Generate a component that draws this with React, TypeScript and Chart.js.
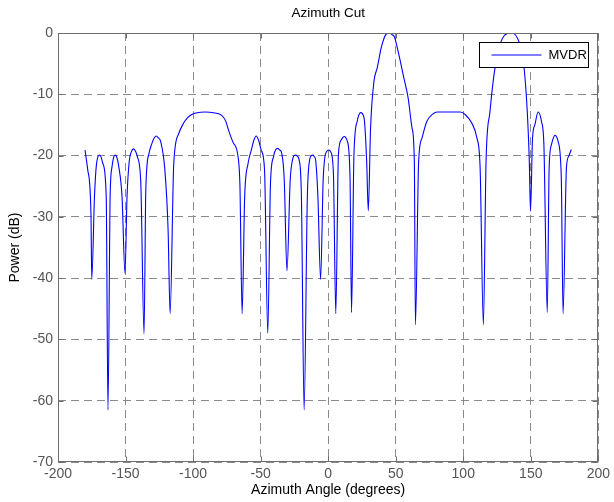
import { useEffect, useRef } from "react";
import { Chart, registerables } from "chart.js";

Chart.register(...registerables);

const chartTitle = "Azimuth Cut";
const xAxisTitle = "Azimuth Angle (degrees)";
const yAxisTitle = "Power (dB)";
const seriesLabel = "MVDR";

const xRange = [-200, 200];
const xStep = 50;
const yRange = [-70, 0];
const yStep = 10;

const azimuthDeg = [
  -180, -178, -175.6, -175, -173, -171.7, -170.5, -169.2, -168, -166.8, -164.3, -163,
  -161.4, -160, -158.7, -157.5, -156.3, -155, -152.6, -150.4, -148.9, -147.3, -145.7,
  -144.1, -142.6, -141.2, -138.7, -136.3, -135, -132.6, -130.6, -129, -127.3, -125.7,
  -124, -120.9, -118.5, -117, -114.3, -110.6, -107, -104, -101, -97, -91, -85, -79,
  -76, -73.5, -70.5, -66.5, -65.3, -63.7, -61.8, -59.3, -56.9, -55, -53.3, -51.5,
  -49.6, -47.1, -44.7, -42.7, -40.5, -39, -37.4, -35.9, -34.4, -32.5, -30.5, -28.1,
  -26.4, -25.2, -24, -22.8, -21.5, -19.8, -17.8, -15.4, -13.7, -12.4, -11.2, -10.2,
  -9.3, -7.6, -5.6, -3.7, -2.4, -1, 0.5, 1.9, 3.9, 5.65, 7.6, 9.8, 11.8, 14.2, 16.2,
  17.3, 19.1, 21.5, 24.1, 26.6, 28.5, 29.7, 31.4, 33.9, 36.3, 39.3, 42.5, 45, 47.5,
  49, 52.3, 56, 59.2, 62.1, 63.8, 64.6, 67, 69.5, 73.1, 77.6, 80.7, 90.8, 97.8, 101.4,
  106.3, 110.1, 112.5, 114.9, 116.9, 119.8, 123.5, 127.2, 130.9, 135.2, 140, 144.5,
  147.4, 148.9, 149.8, 151.3, 153, 155.4, 157.9, 159.7, 162.2, 163.6, 165.3, 168,
  170.2, 172.6, 173.9, 176.4, 178.1, 180,
];

const powerDb = [
  -19.1, -22.3, -29.4, -40.2, -26.7, -21.8, -20.2, -19.9, -20.3, -21.3, -26.7, -61.5,
  -26.7, -21.8, -20.2, -19.9, -20.4, -21.8, -26.7, -39.2, -26.7, -21, -19.4,
  -18.9, -19.3, -20.2, -24.5, -49.1, -25.6, -19.6, -18.1, -17.2, -16.8, -17.1,
  -17.7, -22.3, -32.1, -45.8, -21.3, -16.4, -14.7, -13.8, -13.3, -13.0, -12.9, -13.0, -13.4,
  -14.3, -16.0, -17.8, -20.5, -25, -45.8, -26.7, -21.3, -19.1, -17.5, -16.8, -17.5,
  -19.1, -22.3, -49, -24.5, -20.2, -19.1, -18.8, -19.1, -19.6, -24, -38.8, -24,
  -20.7, -20.0, -19.9, -20.1, -20.7, -26.7, -61.5, -26.7, -20.7, -20.0, -19.9, -20.2,
  -20.7, -26.7, -40.2, -24, -20.2, -19.3, -19.1, -19.4, -23, -45.8, -19.8, -17.4, -16.9, -17.7, -23.7,
  -45.6, -19.8, -14.4, -13, -13.9, -20.9, -29, -15.5, -7.9, -5.7, -2.4, -0.3, 0, -0.3,
  -0.6, -3.5, -7.3, -10.6, -15.5, -20.9, -47.6, -20.9, -17.1, -14.4, -13.2, -12.9, -12.9, -12.9, -13.3,
  -14.7, -17.1, -22, -47.6, -20.9, -12.8, -5.7, -1.9, -0.3, 0, -0.8, -4.6,
  -12.8, -20.9, -29.1, -17.1, -15, -12.9, -14.4, -18.2, -45.6, -22, -18.2, -16.7,
  -17.7, -23.7, -45.8, -22, -20.1, -19,
];

const FONT = "'Liberation Sans', Arial, Helvetica, sans-serif";

export default function App() {
  const ref = useRef<HTMLCanvasElement>(null);

  useEffect(() => {
    document.body.style.margin = "0";
    const canvas = ref.current;
    if (!canvas) return;

    const framePlugin = {
      id: "matlabFrame",
      afterDraw(chart: any) {
        const { ctx, chartArea: a, scales } = chart;
        const L = Math.round(a.left) + 0.5;
        const R = Math.round(a.right) - 0.5;
        const T = Math.round(a.top) + 0.5;
        const B = Math.round(a.bottom) - 0.5;
        ctx.save();
        ctx.setLineDash([]);
        ctx.strokeStyle = "#6e6e6e";
        ctx.lineWidth = 1;
        ctx.strokeRect(L, T, R - L, B - T);
        const tick = 5;
        ctx.beginPath();
        for (let v = xRange[0]; v <= xRange[1]; v += xStep) {
          const px = Math.round(scales.x.getPixelForValue(v)) + 0.5;
          ctx.moveTo(px, B);
          ctx.lineTo(px, B - tick);
          ctx.moveTo(px, T);
          ctx.lineTo(px, T + tick);
        }
        for (let v = yRange[0]; v <= yRange[1]; v += yStep) {
          const py = Math.round(scales.y.getPixelForValue(v)) + 0.5;
          ctx.moveTo(L, py);
          ctx.lineTo(L + tick, py);
          ctx.moveTo(R, py);
          ctx.lineTo(R - tick, py);
        }
        ctx.stroke();

        // title
        ctx.fillStyle = "#000";
        ctx.font = `13.5px ${FONT}`;
        ctx.textAlign = "center";
        ctx.textBaseline = "middle";
        ctx.fillText(chartTitle, (a.left + a.right) / 2, 13);

        // legend
        const bw = 109;
        const bh = 25;
        const bx = Math.round(a.right) - 10 - bw + 0.5;
        const by = Math.round(a.top) + 10 - 0.5;
        ctx.fillStyle = "#fff";
        ctx.fillRect(bx, by, bw, bh);
        ctx.strokeStyle = "#000";
        ctx.strokeRect(bx, by, bw, bh);
        const ly = by + bh / 2;
        ctx.strokeStyle = "#0000ff";
        ctx.beginPath();
        ctx.moveTo(bx + 12, ly);
        ctx.lineTo(bx + 62, ly);
        ctx.stroke();
        ctx.fillStyle = "#000";
        ctx.font = `13px ${FONT}`;
        ctx.textAlign = "left";
        ctx.fillText(seriesLabel, bx + 69, ly + 0.5);
        ctx.restore();
      },
    };

    const chart = new Chart(canvas, {
      type: "line",
      data: {
        datasets: [
          {
            label: seriesLabel,
            data: azimuthDeg.map((x, i) => ({ x, y: powerDb[i] })),
            borderColor: "#0000ff",
            backgroundColor: "#0000ff",
            borderWidth: 1.1,
            pointRadius: 0,
            fill: false,
            cubicInterpolationMode: "monotone",
          },
        ],
      },
      options: {
        animation: false,
        responsive: true,
        maintainAspectRatio: false,
        layout: { padding: { top: 33, right: 11, left: 0, bottom: 0 } },
        plugins: {
          legend: { display: false },
          title: { display: false },
          tooltip: { enabled: false },
        },
        scales: {
          x: {
            type: "linear",
            min: xRange[0],
            max: xRange[1],
            ticks: {
              stepSize: xStep,
              color: "#555",
              font: { family: FONT, size: 14 },
              padding: 4,
              maxRotation: 0,
              autoSkip: false,
            },
            grid: { color: "#8a8a8a", lineWidth: 1, drawTicks: false },
            border: { display: false, dash: [8, 5] },
            title: {
              display: true,
              text: xAxisTitle,
              color: "#000",
              font: { family: FONT, size: 14 },
              padding: { top: 0, bottom: 3 },
            },
            afterFit: (s: any) => {
              s.height = 40;
            },
          },
          y: {
            type: "linear",
            min: yRange[0],
            max: yRange[1],
            ticks: {
              stepSize: yStep,
              color: "#555",
              font: { family: FONT, size: 14 },
              padding: 5,
              autoSkip: false,
            },
            grid: { color: "#8a8a8a", lineWidth: 1, drawTicks: false },
            border: { display: false, dash: [8, 5] },
            title: {
              display: true,
              text: yAxisTitle,
              color: "#000",
              font: { family: FONT, size: 14 },
              padding: { top: 7, bottom: 0 },
            },
            afterFit: (s: any) => {
              s.width = 58;
            },
          },
        },
      },
      plugins: [framePlugin],
    });

    return () => chart.destroy();
  }, []);

  return (
    <div style={{ position: "absolute", left: 0, top: 0, width: 614, height: 502 }}>
      <canvas ref={ref} />
    </div>
  );
}
